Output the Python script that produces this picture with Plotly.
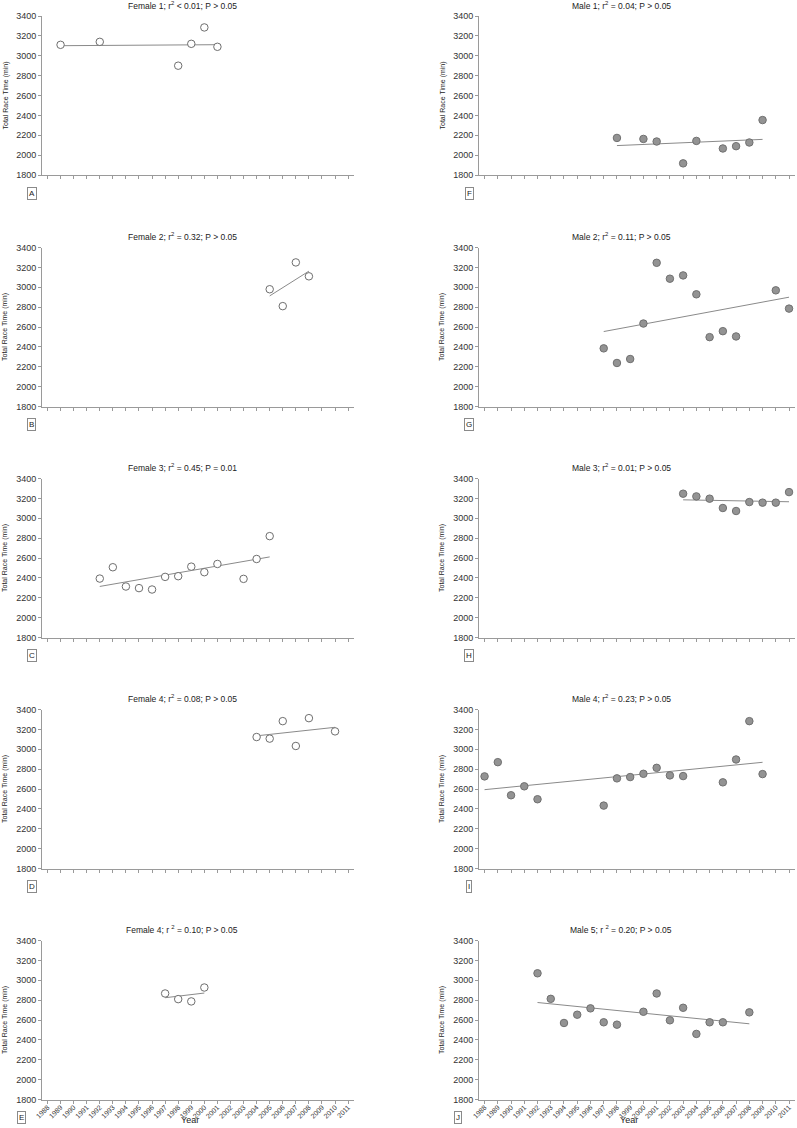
import numpy as np
import plotly.graph_objects as go

W, H = 797, 1128

# ---------------- data ----------------
year_ticks = list(range(1988, 2012))
time_ticks = [1800, 2000, 2200, 2400, 2600, 2800, 3000, 3200, 3400]

f1_years = [1989, 1992, 1998, 1999, 2000, 2001]
f1_times = [3110, 3140, 2900, 3120, 3285, 3090]
f2_years = [2005, 2006, 2007, 2008]
f2_times = [2980, 2810, 3250, 3110]
f3_years = [1992, 1993, 1994, 1995, 1996, 1997, 1998, 1999, 2000, 2001, 2003, 2004, 2005]
f3_times = [2393, 2507, 2313, 2297, 2283, 2410, 2417, 2513, 2457, 2540, 2390, 2590, 2820]
f4_years = [2004, 2005, 2006, 2007, 2008, 2010]
f4_times = [3123, 3107, 3283, 3033, 3313, 3180]
f5_years = [1997, 1998, 1999, 2000]
f5_times = [2867, 2810, 2787, 2927]

m1_years = [1998, 2000, 2001, 2003, 2004, 2006, 2007, 2008, 2009]
m1_times = [2173, 2163, 2137, 1917, 2143, 2067, 2090, 2127, 2353]
m2_years = [1997, 1998, 1999, 2000, 2001, 2002, 2003, 2004, 2005, 2006, 2007, 2010, 2011]
m2_times = [2385, 2238, 2278, 2635, 3246, 3086, 3119, 2929, 2498, 2558, 2505, 2969, 2785]
m3_years = [2003, 2004, 2005, 2006, 2007, 2008, 2009, 2010, 2011]
m3_times = [3247, 3220, 3197, 3103, 3073, 3163, 3157, 3157, 3263]
m4_years = [1988, 1989, 1990, 1991, 1992, 1997, 1998, 1999, 2000, 2001, 2002, 2003, 2006, 2007, 2008, 2009]
m4_times = [2727, 2870, 2537, 2627, 2497, 2433, 2707, 2720, 2753, 2813, 2737, 2730, 2667, 2897, 3283, 2750]
m5_years = [1992, 1993, 1994, 1995, 1996, 1997, 1998, 2000, 2001, 2002, 2003, 2004, 2005, 2006, 2008]
m5_times = [3070, 2813, 2570, 2653, 2717, 2577, 2553, 2683, 2867, 2597, 2723, 2460, 2577, 2577, 2677]

titles_f = ["Female 1; r<sup>2</sup> &lt; 0.01; P &gt; 0.05",
            "Female 2; r<sup>2</sup> = 0.32; P &gt; 0.05",
            "Female 3; r<sup>2</sup> = 0.45; P = 0.01",
            "Female 4; r<sup>2</sup> = 0.08; P &gt; 0.05",
            "Female 4; r <sup>2</sup> = 0.10; P &gt; 0.05"]
titles_m = ["Male 1; r<sup>2</sup> = 0.04; P &gt; 0.05",
            "Male 2; r<sup>2</sup> = 0.11; P &gt; 0.05",
            "Male 3; r<sup>2</sup> = 0.01; P &gt; 0.05",
            "Male 4; r<sup>2</sup> = 0.23; P &gt; 0.05",
            "Male 5; r <sup>2</sup> = 0.20; P &gt; 0.05"]
letters_f = ["A", "B", "C", "D", "E"]
letters_m = ["F", "G", "H", "I", "J"]

female = [(f1_years, f1_times), (f2_years, f2_times), (f3_years, f3_times),
          (f4_years, f4_times), (f5_years, f5_times)]
male = [(m1_years, m1_times), (m2_years, m2_times), (m3_years, m3_times),
        (m4_years, m4_times), (m5_years, m5_times)]

# ---------------- layout geometry (px) ----------------
FONT = "Arial, Liberation Sans, sans-serif"
row_tops = [16, 247.5, 478.5, 709.5, 940.5]
plot_h = 159
col_x = [(42, 354), (479, 795)]
x_range = [1987.58, 2011.45]

def px_x(v):
    return v / W

def px_y(v):
    return 1 - v / H

fig = go.Figure()
layout = dict(width=W, height=H, margin=dict(l=0, r=0, t=0, b=0, pad=0, autoexpand=False),
              paper_bgcolor="white", plot_bgcolor="white", showlegend=False,
              hovermode=False,
              template="none", font=dict(family=FONT, color="#222"))
annotations = []

axis_col = "#9a9a9a"
idx = 0
for c, (datasets, titles, letters) in enumerate([(female, titles_f, letters_f),
                                                   (male, titles_m, letters_m)]):
    for r in range(5):
        idx += 1
        xa = "xaxis" if idx == 1 else f"xaxis{idx}"
        ya = "yaxis" if idx == 1 else f"yaxis{idx}"
        xr = "x" if idx == 1 else f"x{idx}"
        yr = "y" if idx == 1 else f"y{idx}"
        top = row_tops[r]
        bottom = top + plot_h
        x0, x1 = col_x[c]
        bottom_row = (r == 4)
        layout[xa] = dict(domain=[px_x(x0), px_x(x1)], anchor=yr, range=x_range,
                          automargin=False,
                          tickmode="array", tickvals=year_ticks,
                          ticktext=[str(y) for y in year_ticks],
                          showticklabels=bottom_row, tickangle=-45,
                          ticklabelstandoff=-3,
                          tickfont=dict(size=7, color="#333"),
                          showline=True, linecolor=axis_col, linewidth=1,
                          ticks="outside", ticklen=3, tickcolor=axis_col,
                          showgrid=False, zeroline=False)
        layout[ya] = dict(domain=[px_y(bottom), px_y(top)], anchor=xr,
                          automargin=False,
                          range=[1800, 3400], tickmode="array", tickvals=time_ticks,
                          tickfont=dict(size=9, color="#333"),
                          showline=True, linecolor=axis_col, linewidth=1,
                          ticks="outside", ticklen=3, tickcolor=axis_col,
                          showgrid=False, zeroline=False)
        yrs, tms = datasets[r]
        yrs_a = np.array(yrs, dtype=float)
        tms_a = np.array(tms, dtype=float)
        slope, icpt = np.polyfit(yrs_a, tms_a, 1)
        lx = np.array([yrs_a.min(), yrs_a.max()])
        fig.add_trace(go.Scatter(x=lx, y=slope * lx + icpt, mode="lines",
                                 line=dict(color="#8a8a8a", width=1),
                                 xaxis=xr, yaxis=yr, hoverinfo="skip"))
        if c == 0:
            marker = dict(symbol="circle", size=7.5, color="white",
                          line=dict(color="#6e6e6e", width=1))
        else:
            marker = dict(symbol="circle", size=7.5, color="#939393",
                          line=dict(color="#707070", width=1))
        fig.add_trace(go.Scatter(x=yrs, y=tms, mode="markers", marker=marker,
                                 cliponaxis=False, xaxis=xr, yaxis=yr))
        # title
        annotations.append(dict(text=titles[r], x=px_x((x0 + x1) / 2 - 16),
                                y=px_y(top - 11), xref="paper", yref="paper",
                                showarrow=False, xanchor="center", yanchor="middle",
                                font=dict(size=8.5, color="#222")))
        # y-axis title
        annotations.append(dict(text="Total Race Time (min)", x=px_x(x0 - 37),
                                y=px_y((top + bottom) / 2), xref="paper", yref="paper",
                                showarrow=False, textangle=-90, xanchor="center",
                                yanchor="middle", font=dict(size=7, color="#222")))
        # letter box
        lx_px = (x0 - 10) if not bottom_row else (x0 - 21)
        ly_px = bottom + 18
        annotations.append(dict(text=letters[r], x=px_x(lx_px), y=px_y(ly_px),
                                xref="paper", yref="paper", showarrow=False,
                                xanchor="center", yanchor="middle",
                                bordercolor="#8a8a8a", borderwidth=1, borderpad=1,
                                font=dict(size=8, color="#222")))
        if bottom_row:
            annotations.append(dict(text="Year", x=px_x((x0 + x1) / 2 - 8),
                                    y=px_y(1127), xref="paper", yref="paper",
                                    showarrow=False, xanchor="center", yanchor="bottom",
                                    font=dict(size=9, color="#222")))

layout["annotations"] = annotations
fig.update_layout(**layout)
fig.write_html("out.html", config={"displayModeBar": False, "staticPlot": True},
               post_script="document.body.style.margin='0px';"
                           "document.body.style.overflow='hidden';")
